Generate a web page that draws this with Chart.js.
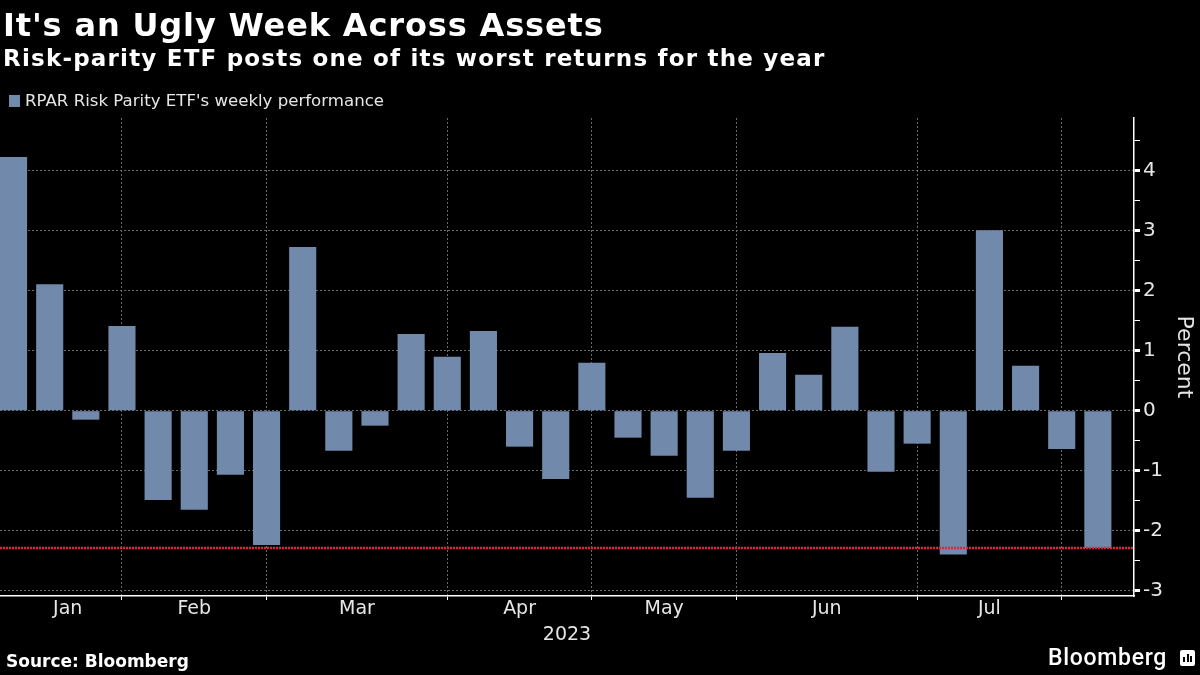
<!DOCTYPE html>
<html>
<head>
<meta charset="utf-8">
<script src="https://cdn.jsdelivr.net/npm/chart.js@4"></script>
<style>
  html, body { margin: 0; padding: 0; background: #000; }
  body { width: 1200px; height: 675px; position: relative; overflow: hidden; font-family: "DejaVu Sans", sans-serif; color: #fff; }
  #chart { position: absolute; left: 0; top: 0; }
  .title { position: absolute; left: 3px; top: 9px; font-size: 32px; line-height: 32px; font-weight: bold; letter-spacing: 0.85px; white-space: nowrap; }
  .subtitle { position: absolute; left: 3px; top: 47px; font-size: 23px; line-height: 23px; font-weight: bold; letter-spacing: 1.2px; white-space: nowrap; }
  .legend { position: absolute; left: 9px; top: 92px; font-size: 16.6px; line-height: 17px; color: #e6e6e6; white-space: nowrap; }
  .legend i { display: inline-block; width: 11px; height: 12px; background: #7189ab; margin-right: 5px; vertical-align: -1px; }
  .source { position: absolute; left: 6px; top: 653px; font-size: 17px; line-height: 17px; font-weight: bold; white-space: nowrap; }
  .logo { position: absolute; left: 1048px; top: 646px; font-family: Roboto, sans-serif; font-weight: 500; font-size: 23px; line-height: 23px; letter-spacing: 0.7px; white-space: nowrap; }
  .logo-icon { position: absolute; left: 1180px; top: 650px; width: 15px; height: 16px; background: #fff; border-radius: 2px; }
  .logo-icon b { position: absolute; bottom: 4px; width: 2px; background: #000; }
</style>
</head>
<body>
<canvas id="chart" width="1200" height="675"></canvas>
<div class="title">It's an Ugly Week Across Assets</div>
<div class="subtitle">Risk-parity ETF posts one of its worst returns for the year</div>
<div class="legend"><i></i>RPAR Risk Parity ETF's weekly performance</div>
<div class="source">Source: Bloomberg</div>
<div class="logo">Bloomberg</div>
<div class="logo-icon"><b style="left:3px;height:5px"></b><b style="left:6.5px;height:8px"></b><b style="left:10px;height:6px"></b></div>
<script>
// week ending dates (Fridays) and weekly returns, %
const weekEnding = [
  '2023-01-06', '2023-01-13', '2023-01-20', '2023-01-27',
  '2023-02-03', '2023-02-10', '2023-02-17', '2023-02-24',
  '2023-03-03', '2023-03-10', '2023-03-17', '2023-03-24', '2023-03-31',
  '2023-04-07', '2023-04-14', '2023-04-21', '2023-04-28',
  '2023-05-05', '2023-05-12', '2023-05-19', '2023-05-26',
  '2023-06-02', '2023-06-09', '2023-06-16', '2023-06-23', '2023-06-30',
  '2023-07-07', '2023-07-14', '2023-07-21', '2023-07-28',
  '2023-08-04'
]
const rparWeekly = [
  4.23, 2.11, -0.15, 1.41,
  -1.49, -1.65, -1.07, -2.24,
  2.73, -0.67, -0.25, 1.28, 0.90,
  1.33, -0.60, -1.14, 0.80,
  -0.45, -0.75, -1.45, -0.67,
  0.96, 0.60, 1.40, -1.02, -0.55,
  -2.40, 3.01, 0.75, -0.64,
  -2.29
]
const monthNames = ['Jan', 'Feb', 'Mar', 'Apr', 'May', 'Jun', 'Jul']
const yTicks = [-3, -2, -1, 0, 1, 2, 3, 4]
const yMinorTicks = [-2.5, -1.5, -0.5, 0.5, 1.5, 2.5, 3.5, 4.5]

// last week of each month gets a gridline, month name sits between them
const monthEnds = []
weekEnding.forEach((d, i) => {
  const next = weekEnding[i + 1]
  if (next && next.slice(5, 7) !== d.slice(5, 7)) monthEnds.push(i)
})
const monthLabelPos = monthEnds.map((end, i) => ((i ? monthEnds[i - 1] : 0) + end) / 2)

const gridGray = '#6a6a6a'

// dotted red line at the latest week's return
const latestLine = {
  id: 'latestLine',
  afterDatasetsDraw(chart) {
    const { ctx, chartArea, scales } = chart
    const y = scales.y.getPixelForValue(rparWeekly[rparWeekly.length - 1])
    ctx.save()
    ctx.strokeStyle = '#e8203c'
    ctx.lineWidth = 2.5
    ctx.setLineDash([2, 1])
    ctx.beginPath()
    ctx.moveTo(chartArea.left, y)
    ctx.lineTo(chartArea.right, y)
    ctx.stroke()
    ctx.restore()
  }
}

const ctx = document.getElementById('chart').getContext('2d')

new Chart(ctx, {
  type: 'bar',
  data: {
    datasets: [{
      label: "RPAR Risk Parity ETF's weekly performance",
      data: rparWeekly.map((v, i) => ({ x: i, y: v })),
      backgroundColor: '#7189ab',
      borderWidth: 0,
      barPercentage: 0.75,
      categoryPercentage: 1
    }]
  },
  options: {
    responsive: false,
    animation: false,
    layout: { padding: { top: 118, left: 0, right: 0, bottom: 0 } },
    plugins: {
      legend: { display: false },
      tooltip: { enabled: false }
    },
    scales: {
      x: {
        type: 'linear',
        min: -0.375,
        max: 31,
        offset: false,
        afterBuildTicks: scale => {
          scale.ticks = monthEnds.concat(monthLabelPos).sort((a, b) => a - b).map(v => ({ value: v }))
        },
        afterFit: scale => { scale.height = 79 },
        border: { display: true, color: '#fff', width: 1.5, dash: [2, 2] },
        grid: {
          offset: false,
          color: c => (c.tick && monthEnds.includes(c.tick.value)) ? gridGray : 'transparent',
          tickColor: c => (c.tick && monthEnds.includes(c.tick.value)) ? '#fff' : 'transparent',
          tickBorderDash: [],
          tickLength: 4,
          lineWidth: 1
        },
        ticks: {
          autoSkip: false,
          maxRotation: 0,
          padding: -2,
          color: '#e6e6e6',
          font: { family: 'DejaVu Sans', size: 19 },
          callback: v => {
            const k = monthLabelPos.indexOf(v)
            return k >= 0 ? monthNames[k] : ''
          }
        },
        title: {
          display: true,
          text: '2023',
          color: '#e6e6e6',
          font: { family: 'DejaVu Sans', size: 19 },
          padding: { top: 0, bottom: 29 }
        }
      },
      y: {
        position: 'right',
        min: -3.09,
        max: 4.88,
        afterBuildTicks: scale => {
          scale.ticks = yTicks.concat(yMinorTicks).sort((a, b) => a - b).map(v => ({ value: v }))
        },
        afterFit: scale => { scale.width = 66 },
        border: { display: true, color: '#fff', width: 1.5, dash: [2, 2] },
        grid: {
          color: c => (c.tick && yTicks.includes(c.tick.value)) ? gridGray : 'transparent',
          tickColor: '#fff',
          tickWidth: c => (c.tick && yTicks.includes(c.tick.value)) ? 3 : 1,
          tickBorderDash: [],
          tickLength: 6,
          lineWidth: 1
        },
        ticks: {
          autoSkip: false,
          padding: 3,
          color: '#e6e6e6',
          font: { family: 'DejaVu Sans', size: 20 },
          callback: v => yTicks.includes(v) ? String(v) : ''
        },
        title: {
          display: true,
          text: 'Percent',
          color: '#e6e6e6',
          font: { family: 'DejaVu Sans', size: 22 },
          padding: { top: 3, bottom: 0 }
        }
      }
    }
  },
  plugins: [latestLine]
})
</script>
</body>
</html>
